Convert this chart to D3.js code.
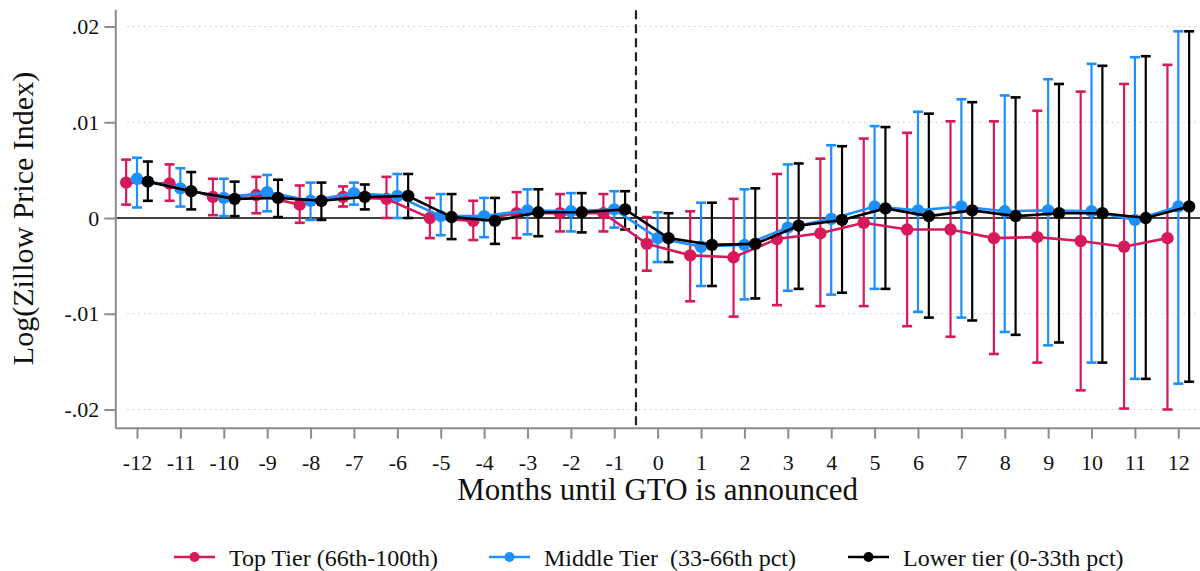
<!DOCTYPE html>
<html lang="en">
<head>
    <meta charset="UTF-8">
    <title>GTO event study</title>
    <script src="https://cdn.jsdelivr.net/npm/d3@7/dist/d3.min.js"></script>
    <style>
        body { margin: 0; background: #fff; }
        text { font-family: "Liberation Serif", "DejaVu Serif", serif; fill: #111; }
    </style>
</head>
<body>
<svg width="1200" height="571" id="main"></svg>
<script>

    // months relative to announcement
    let months = [-12, -11, -10, -9, -8, -7, -6, -5, -4, -3, -2, -1, 0, 1, 2, 3, 4, 5, 6, 7, 8, 9, 10, 11, 12];

    // Top tier (66th-100th)
    let topEst = [.0037, .0036, .0022, .0024, .0014, .0022, .0020, .0000, -.0003, .0005, .0005, .0005, -.0027, -.0039, -.0041, -.0022, -.0016, -.0005, -.0012, -.0012, -.0021, -.0020, -.0024, -.0030, -.0021];
    let topHi = [.0061, .0056, .0041, .0043, .0034, .0033, .0043, .0021, .0018, .0027, .0025, .0025, .0001, .0007, .0020, .0046, .0062, .0083, .0089, .0101, .0101, .0112, .0132, .0140, .0160];
    let topLo = [.0014, .0018, .0003, .0005, -.0005, .0012, .0000, -.0021, -.0023, -.0021, -.0014, -.0014, -.0055, -.0087, -.0103, -.0091, -.0092, -.0092, -.0113, -.0124, -.0142, -.0151, -.0180, -.0199, -.0200];

    // Middle tier (33-66th pct)
    let midEst = [.0041, .0031, .0021, .0027, .0018, .0026, .0023, .0002, .0002, .0008, .0007, .0009, -.0021, -.0030, -.0028, -.0010, -.0001, .0012, .0008, .0012, .0007, .0008, .0007, -.0002, .0012];
    let midHi = [.0063, .0052, .0041, .0045, .0037, .0037, .0046, .0025, .0021, .0030, .0026, .0028, .0006, .0016, .0030, .0056, .0076, .0096, .0111, .0124, .0128, .0145, .0161, .0168, .0195];
    let midLo = [.0011, .0012, .0002, .0007, -.0002, .0014, .0000, -.0018, -.0020, -.0017, -.0014, -.0010, -.0046, -.0071, -.0085, -.0076, -.0080, -.0074, -.0098, -.0104, -.0119, -.0133, -.0151, -.0168, -.0173];

    // Lower tier (0-33th pct)
    let lowEst = [.0038, .0028, .0020, .0021, .0018, .0022, .0023, .0001, -.0003, .0006, .0006, .0009, -.0021, -.0028, -.0027, -.0008, -.0002, .0010, .0002, .0008, .0002, .0005, .0005, .0000, .0012];
    let lowHi = [.0059, .0048, .0038, .0040, .0037, .0035, .0046, .0025, .0021, .0030, .0026, .0028, .0005, .0016, .0031, .0057, .0075, .0095, .0109, .0121, .0126, .0140, .0159, .0169, .0195];
    let lowLo = [.0018, .0009, .0002, .0001, -.0002, .0009, .0000, -.0022, -.0027, -.0019, -.0015, -.0012, -.0046, -.0071, -.0084, -.0074, -.0078, -.0074, -.0104, -.0107, -.0122, -.0130, -.0151, -.0168, -.0171];

    let seriesNames = ["Top Tier (66th-100th)", "Middle Tier  (33-66th pct)", "Lower tier (0-33th pct)"];
    let yTicks = [-.02, -.01, 0, .01, .02];

    draw();

    function draw() {
        let svg = d3.select('#main');
        let width = 1200;
        let margin = {top: 9.3, right: 0, bottom: 143.3, left: 115.3};
        let height = 571;

        let x = d3.scaleLinear()
            .domain([-12.5, 12.5])
            .range([margin.left, width - margin.right]);
        let y = d3.scaleLinear()
            .domain([-0.0219, 0.0218])
            .range([height - margin.bottom, margin.top]);

        let series = [
            {name: seriesNames[0], color: "#d6195b", off: -0.25, est: topEst, lo: topLo, hi: topHi},
            {name: seriesNames[1], color: "#1e8fff", off: 0, est: midEst, lo: midLo, hi: midHi},
            {name: seriesNames[2], color: "#000000", off: 0.25, est: lowEst, lo: lowLo, hi: lowHi}
        ];

        // dotted grid
        svg.append("g")
            .selectAll("line")
            .data(yTicks.filter(d => d !== 0))
            .join("line")
            .attr("x1", x(-12.5) + 12).attr("x2", width)
            .attr("y1", d => y(d)).attr("y2", d => y(d))
            .attr("stroke", "#c8c8c8")
            .attr("stroke-width", 1)
            .attr("stroke-dasharray", "1.5,4");

        // zero line
        svg.append("line")
            .attr("x1", x(-12.5)).attr("x2", width)
            .attr("y1", y(0)).attr("y2", y(0))
            .attr("stroke", "#000").attr("stroke-width", 1.6);

        // announcement line
        svg.append("line")
            .attr("x1", x(-0.5)).attr("x2", x(-0.5))
            .attr("y1", y.range()[1] + 1).attr("y2", y.range()[0])
            .attr("stroke", "#222").attr("stroke-width", 2.2)
            .attr("stroke-dasharray", "9,5");

        // axes
        let fmt = d => d === 0 ? "0" : d3.format(".2f")(d).replace("\u2212", "-").replace("0.", ".");
        let yAxis = svg.append("g")
            .attr("transform", `translate(${margin.left},0)`)
            .call(d3.axisLeft(y).tickValues(yTicks).tickFormat(fmt).tickSize(11).tickSizeOuter(0).tickPadding(5));
        let xAxis = svg.append("g")
            .attr("transform", `translate(0,${height - margin.bottom})`)
            .call(d3.axisBottom(x).tickValues(months).tickFormat(d3.format("d")).tickSize(11).tickSizeOuter(0).tickPadding(16));
        [xAxis, yAxis].forEach(g => {
            g.selectAll("path, line").attr("stroke", "#8c8c8c").attr("stroke-width", 2);
            g.selectAll("text").attr("font-size", 22).attr("font-family", "Liberation Serif").attr("fill", "#111");
        });
        xAxis.selectAll(".tick text").text(d => d < 0 ? "-" + Math.abs(d) : d);

        // error bars
        let cap = 5;
        series.forEach(s => {
            let g = svg.append("g").attr("stroke", s.color).attr("stroke-width", 2.2);
            months.forEach((m, i) => {
                let cx = x(m + s.off);
                g.append("line").attr("x1", cx).attr("x2", cx).attr("y1", y(s.lo[i])).attr("y2", y(s.hi[i]));
                g.append("line").attr("x1", cx - cap).attr("x2", cx + cap).attr("y1", y(s.lo[i])).attr("y2", y(s.lo[i])).attr("stroke-width", 2.6);
                g.append("line").attr("x1", cx - cap).attr("x2", cx + cap).attr("y1", y(s.hi[i])).attr("y2", y(s.hi[i])).attr("stroke-width", 2.6);
            });
        });

        // connected estimates
        let line = d3.line().x(d => x(d[0])).y(d => y(d[1]));
        series.forEach(s => {
            let pts = months.map((m, i) => [m + s.off, s.est[i]]);
            svg.append("path")
                .datum(pts)
                .attr("d", line)
                .attr("fill", "none")
                .attr("stroke", s.color)
                .attr("stroke-width", 2.6);
            svg.append("g")
                .selectAll("circle")
                .data(pts)
                .join("circle")
                .attr("cx", d => x(d[0]))
                .attr("cy", d => y(d[1]))
                .attr("r", 6.2)
                .attr("fill", s.color);
        });

        // axis titles
        svg.append("text")
            .attr("x", (x.range()[0] + x.range()[1]) / 2)
            .attr("y", 500)
            .attr("text-anchor", "middle")
            .attr("font-size", 31)
            .text("Months until GTO is announced");
        svg.append("text")
            .attr("transform", `translate(33,${(y.range()[0] + y.range()[1]) / 2}) rotate(-90)`)
            .attr("text-anchor", "middle")
            .attr("font-size", 30)
            .text("Log(Zillow Price Index)");

        // legend
        let legX = [174, 489, 848];
        let leg = svg.append("g");
        series.forEach((s, i) => {
            let g = leg.append("g").attr("transform", `translate(${legX[i]},557)`);
            g.append("line").attr("x1", 0).attr("x2", 41).attr("y1", 0).attr("y2", 0)
                .attr("stroke", s.color).attr("stroke-width", 2.6);
            g.append("circle").attr("cx", 20.5).attr("cy", 0).attr("r", 5).attr("fill", s.color);
            g.append("text").attr("x", 55).attr("y", 9)
                .attr("font-size", 24)
                .style("white-space", "pre")
                .text(s.name);
        });
    }
</script>
</body>
</html>
